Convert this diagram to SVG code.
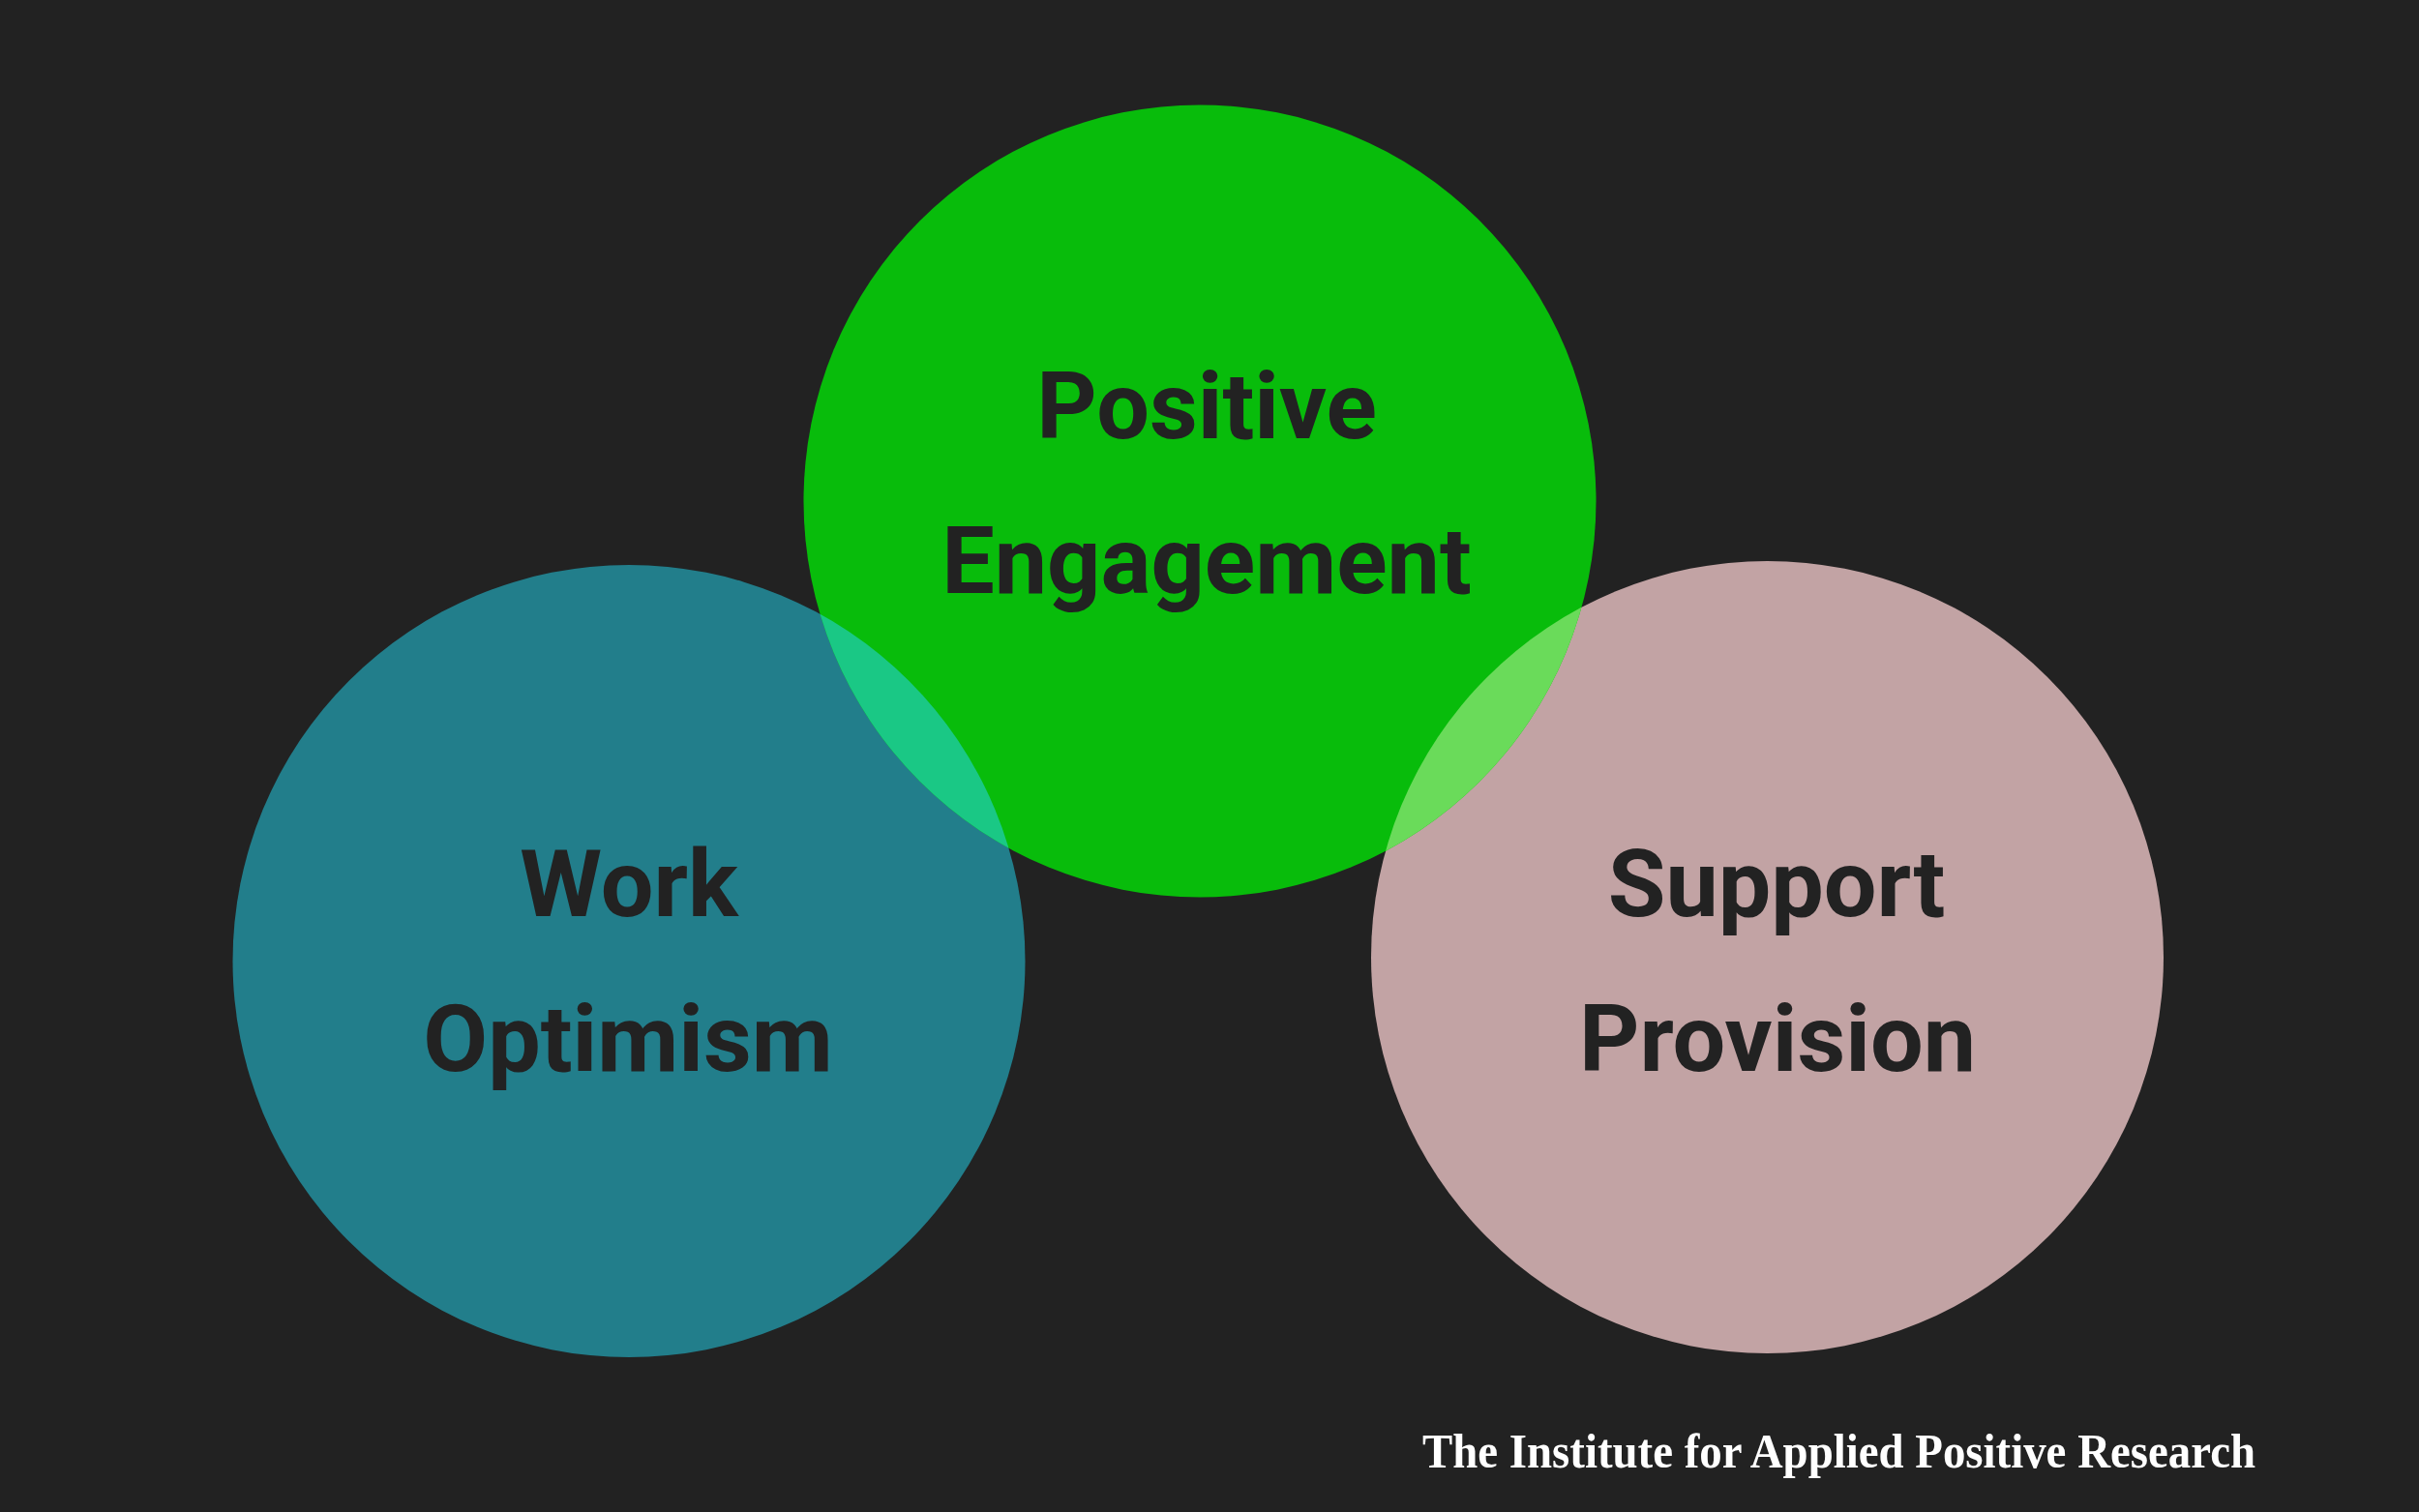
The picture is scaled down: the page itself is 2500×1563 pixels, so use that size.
<svg xmlns="http://www.w3.org/2000/svg" width="2500" height="1563" viewBox="0 0 2500 1563">
<defs>
<style>
.lbl{font-family:Roboto,"Noto Sans",sans-serif;font-weight:700;font-size:97px;fill:#222222;text-anchor:middle}
.title{font-family:"Liberation Serif","Times New Roman",serif;font-weight:700;font-size:50px;fill:#ffffff}
</style>
<clipPath id="clipGreen"><circle cx="1240" cy="518" r="409.5"/></clipPath>
</defs>
<rect x="0" y="0" width="2500" height="1563" fill="#222222"/>
<g id="work-optimism">
<circle cx="650" cy="993.5" r="409.5" fill="#227e8b"/>
</g>
<g id="support-provision">
<circle cx="1826.5" cy="989.5" r="409.5" fill="#c2a3a4"/>
</g>
<g id="positive-engagement">
<circle cx="1240" cy="518" r="409.5" fill="#08bc0b"/>
</g>
<g id="overlaps">
<circle cx="650" cy="993.5" r="409.5" fill="#1ac885" clip-path="url(#clipGreen)"/>
<circle cx="1826.5" cy="989.5" r="409.5" fill="#6adb5a" clip-path="url(#clipGreen)"/>
</g>
<g id="labels">
<text class="lbl" x="1247" y="453">Positive</text>
<text class="lbl" x="1247" y="613">Engagement</text>
<text class="lbl" x="650" y="947">Work</text>
<text class="lbl" x="649" y="1107">Optimism</text>
<text class="lbl" x="1836" y="947">Support</text>
<text class="lbl" x="1837" y="1107">Provision</text>
</g>
<g id="connectors"></g>
<text class="title" x="1470" y="1517" textLength="861" lengthAdjust="spacingAndGlyphs">The Institute for Applied Positive Research</text>
</svg>
